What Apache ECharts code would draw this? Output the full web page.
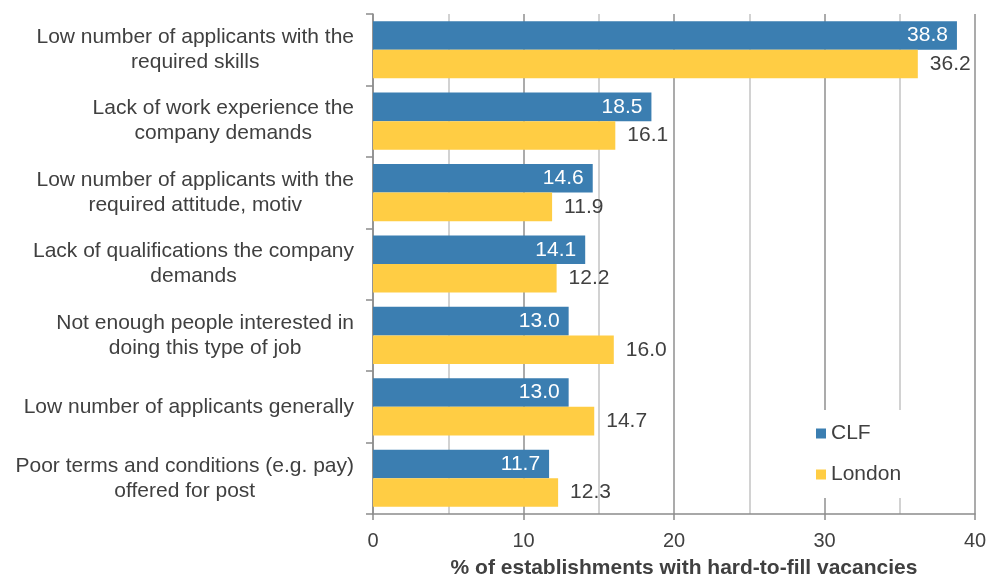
<!DOCTYPE html>
<html>
<head>
<meta charset="utf-8">
<script src="https://cdn.jsdelivr.net/npm/echarts@6/dist/echarts.min.js"></script>
<style>
  html, body { margin: 0; padding: 0; background: #fff; }
  #chart { width: 988px; height: 579px; }
</style>
</head>
<body>
<div id="chart"></div>
<script>
// Reasons for hard-to-fill vacancies, listed top to bottom
const categories = [
  'Low number of applicants with the\nrequired skills',
  'Lack of work experience the\ncompany demands',
  'Low number of applicants with the\nrequired attitude, motiv',
  'Lack of qualifications the company\ndemands',
  'Not enough people interested in\ndoing this type of job',
  'Low number of applicants generally',
  'Poor terms and conditions (e.g. pay)\noffered for post'
];
const clfValues = [38.8, 18.5, 14.6, 14.1, 13.0, 13.0, 11.7];
const londonValues = [36.2, 16.1, 11.9, 12.2, 16.0, 14.7, 12.3];
const seriesNames = ['CLF', 'London'];
const axisTitle = '% of establishments with hard-to-fill vacancies';

const FONT = '"Liberation Sans", Arial, sans-serif';
const TEXT = '#404040';

// Category axis runs top to bottom, so reverse for ECharts' bottom-up y axis
const cats = categories.slice().reverse();
const clf = clfValues.slice().reverse();
const london = londonValues.slice().reverse();

const chart = echarts.init(document.getElementById('chart'), null, { renderer: 'canvas' });

chart.setOption({
  animation: false,
  backgroundColor: '#fff',
  grid: {
    left: 373, right: 13, top: 14, bottom: 65,
    containLabel: false,
    outerBoundsMode: 'none'
  },
  legend: {
    orient: 'vertical',
    left: 806,
    top: 410,
    padding: [13, 12, 13, 10],
    backgroundColor: '#fff',
    itemWidth: 10,
    itemHeight: 10,
    itemGap: 20,
    icon: 'rect',
    textStyle: { fontFamily: FONT, fontSize: 21, color: TEXT },
    data: seriesNames
  },
  xAxis: {
    type: 'value',
    min: 0,
    max: 40,
    interval: 10,
    name: axisTitle,
    nameLocation: 'middle',
    nameGap: 44,
    nameTextStyle: {
      fontFamily: FONT, fontSize: 21, fontWeight: 'bold', color: TEXT,
      padding: [0, 0, 0, 20]
    },
    axisLine: { show: true, lineStyle: { color: '#8c8c8c', width: 1.5 } },
    axisTick: { show: true, length: 6, lineStyle: { color: '#8c8c8c', width: 1.5 } },
    axisLabel: { fontFamily: FONT, fontSize: 20, color: TEXT, margin: 17 },
    splitLine: { show: true, lineStyle: { color: '#8f8f8f', width: 1.5 } },
    minorTick: { show: false, splitNumber: 2 },
    minorSplitLine: { show: true, lineStyle: { color: '#c4c4c4', width: 1.5 } }
  },
  yAxis: {
    type: 'category',
    data: cats,
    axisLine: { show: true, lineStyle: { color: '#8c8c8c', width: 1.5 } },
    axisTick: { show: true, length: 7, inside: false, lineStyle: { color: '#8c8c8c', width: 1.5 } },
    axisLabel: {
      margin: 19,
      align: 'right',
      formatter: function (v) {
        return v.split('\n').map(function (s) { return '{c|' + s + '}'; }).join('\n');
      },
      rich: {
        c: { align: 'center', fontFamily: FONT, fontSize: 21, lineHeight: 25, color: TEXT }
      }
    }
  },
  series: [
    {
      name: seriesNames[0],
      type: 'bar',
      data: clf,
      barGap: '0%',
      barCategoryGap: '20%',
      itemStyle: { color: '#3b7eb1' },
      label: {
        show: true,
        position: 'insideRight',
        distance: 9,
        formatter: function (p) { return p.value.toFixed(1); },
        fontFamily: FONT,
        fontSize: 21,
        color: '#ffffff'
      }
    },
    {
      name: seriesNames[1],
      type: 'bar',
      data: london,
      barGap: '0%',
      barCategoryGap: '20%',
      itemStyle: { color: '#ffcd44' },
      label: {
        show: true,
        position: 'right',
        distance: 12,
        formatter: function (p) { return p.value.toFixed(1); },
        fontFamily: FONT,
        fontSize: 21,
        color: TEXT
      }
    }
  ]
});
</script>
</body>
</html>
